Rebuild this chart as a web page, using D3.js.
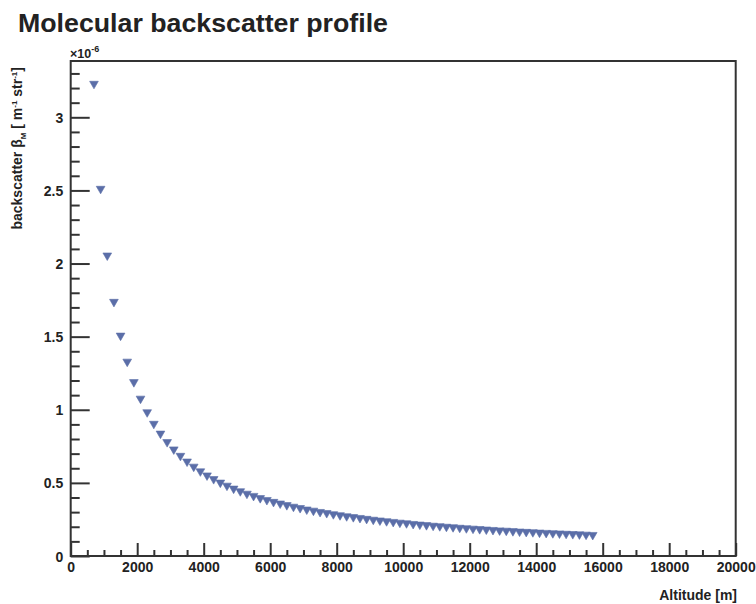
<!DOCTYPE html>
<html><head><meta charset="utf-8">
<script src="https://cdn.jsdelivr.net/npm/d3@7"></script>
<style>body{margin:0;background:#fff}svg{display:block}</style>
</head><body>
<svg id="c" width="756" height="604"></svg>
<script>
const altitudes = [700,900,1100,1300,1500,1700,1900,2100,2300,2500,2700,2900,3100,3300,3500,3700,3900,4100,4300,4500,4700,4900,5100,5300,5500,5700,5900,6100,6300,6500,6700,6900,7100,7300,7500,7700,7900,8100,8300,8500,8700,8900,9100,9300,9500,9700,9900,10100,10300,10500,10700,10900,11100,11300,11500,11700,11900,12100,12300,12500,12700,12900,13100,13300,13500,13700,13900,14100,14300,14500,14700,14900,15100,15300,15500,15700];
const backscatter = [3.229,2.511,2.055,1.738,1.507,1.329,1.189,1.076,0.983,0.904,0.837,0.779,0.729,0.685,0.646,0.611,0.579,0.551,0.526,0.502,0.481,0.461,0.443,0.426,0.411,0.396,0.383,0.370,0.359,0.348,0.337,0.328,0.318,0.310,0.301,0.294,0.286,0.279,0.272,0.266,0.260,0.254,0.248,0.243,0.238,0.233,0.228,0.224,0.219,0.215,0.211,0.207,0.204,0.200,0.197,0.193,0.190,0.187,0.184,0.181,0.178,0.175,0.173,0.170,0.167,0.165,0.163,0.160,0.158,0.156,0.154,0.152,0.150,0.148,0.146,0.144];
const xTickLabels = [0,2000,4000,6000,8000,10000,12000,14000,16000,18000,20000];
const yTickLabels = [0,0.5,1,1.5,2,2.5,3];
const xMinor = d3.range(0, 20001, 500);
const yMinor = d3.range(0, 3.35, 0.1);

const FONT = "'Liberation Sans', Arial, Helvetica, sans-serif";
const svg = d3.select("#c");
const L = 70.7, R = 735.7, T = 61, B = 556;
const x = d3.scaleLinear().domain([0, 20000]).range([L, R]);
const y = d3.scaleLinear().domain([0, 3.385]).range([B, T]);
const ink = "#333";

// title
svg.append("text").attr("x", 18).attr("y", 32)
  .attr("font-family", FONT).attr("font-weight", "bold").attr("font-size", 26)
  .attr("textLength", 370).attr("lengthAdjust", "spacingAndGlyphs")
  .attr("fill", "#222").text("Molecular backscatter profile");

// axes via d3
const xAxis = d3.axisBottom(x).tickValues(xTickLabels).tickFormat(d3.format("d")).tickSize(-13).tickPadding(15.5);
const gx = svg.append("g").attr("transform", `translate(0,${B})`).call(xAxis);
const xAxisMinor = d3.axisBottom(x).tickValues(xMinor.filter(v => v % 2000 !== 0)).tickFormat("").tickSize(-6);
const gxm = svg.append("g").attr("transform", `translate(0,${B})`).call(xAxisMinor);

const yAxis = d3.axisLeft(y).tickValues(yTickLabels).tickFormat(d => d).tickSize(-19).tickPadding(7.5);
const gy = svg.append("g").attr("transform", `translate(${L},0)`).call(yAxis);
const yAxisMinor = d3.axisLeft(y).tickValues(yMinor.filter(v => Math.abs(v*2 - Math.round(v*2)) > 1e-6)).tickFormat("").tickSize(-9);
const gym = svg.append("g").attr("transform", `translate(${L},0)`).call(yAxisMinor);

[gx, gxm, gy, gym].forEach(g => {
  g.select(".domain").remove();
  g.selectAll(".tick line").attr("stroke", ink).attr("stroke-width", 2);
  g.selectAll(".tick text").attr("font-family", FONT).attr("font-weight", "bold")
    .attr("font-size", 14).attr("fill", "#222");
});
gx.selectAll(".tick text").attr("dy", "0");
gy.selectAll(".tick text").attr("dy", "0.36em");

// frame
svg.append("rect").attr("x", L).attr("y", T).attr("width", R - L).attr("height", B - T)
  .attr("fill", "none").attr("stroke", ink).attr("stroke-width", 2);

// points
const tri = d3.symbol().type(d3.symbolTriangle).size(33);
svg.append("g").selectAll("path").data(altitudes).join("path")
  .attr("d", tri)
  .attr("transform", (d, i) => `translate(${x(d)},${y(backscatter[i])}) rotate(180)`)
  .attr("fill", "#5b6ea8").attr("stroke", "#5b6ea8").attr("stroke-width", 0.6);

// exponent label
const ex = svg.append("text").attr("x", 70).attr("y", 58)
  .attr("font-family", FONT).attr("font-weight", "bold").attr("font-size", 12.5).attr("fill", "#222");
ex.append("tspan").text("×10");
ex.append("tspan").attr("dy", -6).attr("font-size", 9).text("-6");

// x title
svg.append("text").attr("x", 737).attr("y", 600).attr("text-anchor", "end")
  .attr("font-family", FONT).attr("font-weight", "bold").attr("font-size", 14).attr("fill", "#222")
  .text("Altitude [m]");

// y title
const yt = svg.append("text").attr("transform", "translate(22,67) rotate(-90)").attr("text-anchor", "end")
  .attr("font-family", FONT).attr("font-weight", "bold").attr("font-size", 14).attr("fill", "#222");
yt.append("tspan").text("backscatter β");
yt.append("tspan").attr("dy", 3.5).attr("font-size", 8).text("M");
yt.append("tspan").attr("dy", -3.5).text(" [ m");
yt.append("tspan").attr("dy", -5).attr("font-size", 8).text("-1");
yt.append("tspan").attr("dy", 5).text(" str");
yt.append("tspan").attr("dy", -5).attr("font-size", 8).text("-1");
yt.append("tspan").attr("dy", 5).text("]");
</script>
</body></html>
